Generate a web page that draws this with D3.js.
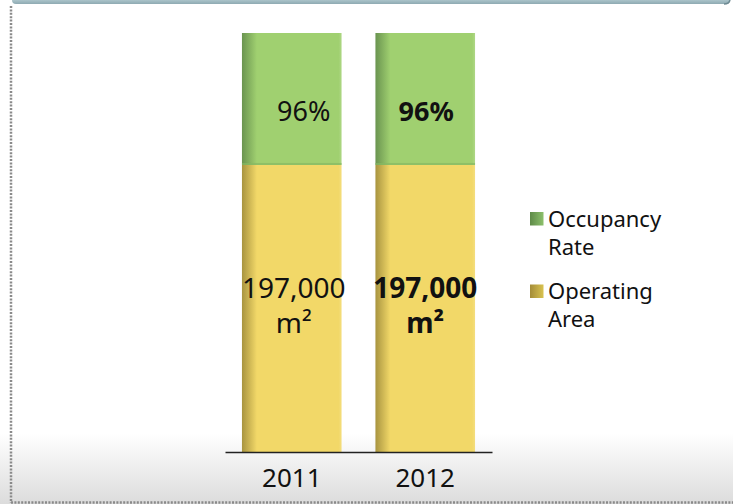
<!DOCTYPE html>
<html>
<head>
<meta charset="utf-8">
<script src="https://cdn.jsdelivr.net/npm/d3@7"></script>
<style>
  html, body { margin: 0; padding: 0; background: #fff; }
  svg { display: block; }
</style>
</head>
<body>
<svg id="chart" width="733" height="504"></svg>
<script>
// ---- data ----
const years = ["2011", "2012"];
const areaShare = [68.5, 68.5];        // relative bar share of Operating Area segment
const occupancyShare = [31.5, 31.5];   // relative bar share of Occupancy Rate segment
const areaLabels = ["197,000", "197,000"];
const occupancyLabels = ["96%", "96%"];
const labelBold = [false, true];
const seriesNames = ["Occupancy Rate", "Operating Area"];

const W = 733, H = 504;
const svg = d3.select("#chart");
const defs = svg.append("defs");
const font = "'Noto Sans', 'Liberation Sans', sans-serif";

// background gradient
const bg = defs.append("linearGradient").attr("id", "bg").attr("x1", 0).attr("y1", 0).attr("x2", 0).attr("y2", 1);
bg.append("stop").attr("offset", "0").attr("stop-color", "#ffffff");
bg.append("stop").attr("offset", "0.86").attr("stop-color", "#ffffff");
bg.append("stop").attr("offset", "1").attr("stop-color", "#dcdcdc");
svg.append("rect").attr("x", 0).attr("y", 0).attr("width", W).attr("height", H).attr("fill", "url(#bg)");

// bar gradients (shaded left edge)
function barGrad(id, dark, base) {
  const g = defs.append("linearGradient").attr("id", id).attr("x1", 0).attr("y1", 0).attr("x2", 1).attr("y2", 0);
  g.append("stop").attr("offset", "0").attr("stop-color", dark);
  g.append("stop").attr("offset", "0.15").attr("stop-color", base);
  g.append("stop").attr("offset", "0.97").attr("stop-color", base);
  g.append("stop").attr("offset", "1").attr("stop-color", base).attr("stop-opacity", 0.85);
}
barGrad("gGreen", "#6a9450", "#a0d070");
barGrad("gYellow", "#a89440", "#f2d868");
function legGrad(id, a, b) {
  const g = defs.append("linearGradient").attr("id", id).attr("x1", 0).attr("y1", 0).attr("x2", 1).attr("y2", 0);
  g.append("stop").attr("offset", "0").attr("stop-color", a);
  g.append("stop").attr("offset", "1").attr("stop-color", b);
}
legGrad("lGreen", "#5e8a48", "#8cc06c");
legGrad("lYellow", "#a48c38", "#d8c250");

// top border
const tb = defs.append("linearGradient").attr("id", "tb").attr("x1", 0).attr("y1", 0).attr("x2", 0).attr("y2", 1);
tb.append("stop").attr("offset", "0").attr("stop-color", "#c8dde2");
tb.append("stop").attr("offset", "1").attr("stop-color", "#8eaab2");
svg.append("rect").attr("x", 12).attr("y", -4).attr("width", 718).attr("height", 8).attr("rx", 4).attr("fill", "url(#tb)");
svg.append("path").attr("d", "M724,4 Q729,4 730,0").attr("stroke", "#6e8a92").attr("stroke-width", 1.5).attr("fill", "none");

// dotted frame
svg.append("line").attr("x1", 11).attr("x2", 11).attr("y1", 6).attr("y2", 503)
  .attr("stroke", "#8a8a8a").attr("stroke-width", 2.5).attr("stroke-dasharray", "2,1.4");
svg.append("line").attr("x1", 11).attr("x2", 733).attr("y1", 502.5).attr("y2", 502.5)
  .attr("stroke", "#8a8a8a").attr("stroke-width", 2.5).attr("stroke-dasharray", "2,1.4");

// scales
const x = d3.scaleBand().domain(years).range([225, 492]).paddingInner(0.2537).paddingOuter(0.127);
const y = d3.scaleLinear().domain([0, 100]).range([452, 33]);

const stack = years.map((yr, i) => ({
  year: yr,
  area: areaShare[i],
  occ: occupancyShare[i],
  areaLabel: areaLabels[i],
  occLabel: occupancyLabels[i],
  bold: labelBold[i]
}));

const bars = svg.append("g");
// operating area (bottom)
bars.selectAll("rect.area").data(stack).join("rect").attr("class", "area")
  .attr("x", d => x(d.year)).attr("width", x.bandwidth())
  .attr("y", d => y(d.area)).attr("height", d => y(0) - y(d.area))
  .attr("fill", "url(#gYellow)");
// occupancy (top)
bars.selectAll("rect.occ").data(stack).join("rect").attr("class", "occ")
  .attr("x", d => x(d.year)).attr("width", x.bandwidth())
  .attr("y", d => y(d.area + d.occ)).attr("height", d => y(d.area) - y(d.area + d.occ))
  .attr("fill", "url(#gGreen)");
// segment boundary shading
bars.selectAll("rect.edge").data(stack).join("rect").attr("class", "edge")
  .attr("x", d => x(d.year)).attr("width", x.bandwidth())
  .attr("y", d => y(d.area) - 2).attr("height", 2)
  .attr("fill", "#86b863").attr("opacity", 0.7);

// axis
const axis = svg.append("g").attr("transform", `translate(0,${y(0)})`)
  .call(d3.axisBottom(x).tickSize(0).tickPadding(17));
axis.select(".domain").attr("stroke", "#222").attr("stroke-width", 1.3);
axis.selectAll("text").attr("font-family", font).attr("font-size", 26).attr("fill", "#111");

// labels
const lbl = svg.append("g").attr("font-family", font).attr("fill", "#111").attr("text-anchor", "middle");
lbl.selectAll("text.occ").data(stack).join("text").attr("class", "occ")
  .attr("x", (d, i) => x(d.year) + x.bandwidth() / 2 + (d.bold ? 1 : 12))
  .attr("y", 121).attr("font-size", 27)
  .attr("font-weight", d => d.bold ? "bold" : "normal")
  .text(d => d.occLabel);
lbl.selectAll("text.area").data(stack).join("text").attr("class", "area")
  .attr("x", (d, i) => x(d.year) + x.bandwidth() / 2 + (d.bold ? 0 : 2))
  .attr("y", 298).attr("font-size", 28)
  .attr("font-weight", d => d.bold ? "bold" : "normal")
  .text(d => d.areaLabel);
lbl.selectAll("text.unit").data(stack).join("text").attr("class", "unit")
  .attr("x", (d, i) => x(d.year) + x.bandwidth() / 2 + (d.bold ? 0 : 2))
  .attr("y", 333).attr("font-size", 28)
  .attr("font-weight", d => d.bold ? "bold" : "normal")
  .text("m²");

// legend
const leg = svg.append("g").attr("font-family", font).attr("fill", "#111").attr("font-size", 22);
const legFills = ["url(#lGreen)", "url(#lYellow)"];
const legWords = [["Occupancy", "Rate"], ["Operating", "Area"]];
seriesNames.forEach((name, i) => {
  const gy = 212 + i * 72.5;
  leg.append("rect").attr("x", 530).attr("y", gy).attr("width", 13.5).attr("height", 13.5).attr("fill", legFills[i]);
  legWords[i].forEach((w, j) => {
    leg.append("text").attr("x", 548).attr("y", gy + 14.5 + j * 28).text(w);
  });
});
</script>
</body>
</html>
